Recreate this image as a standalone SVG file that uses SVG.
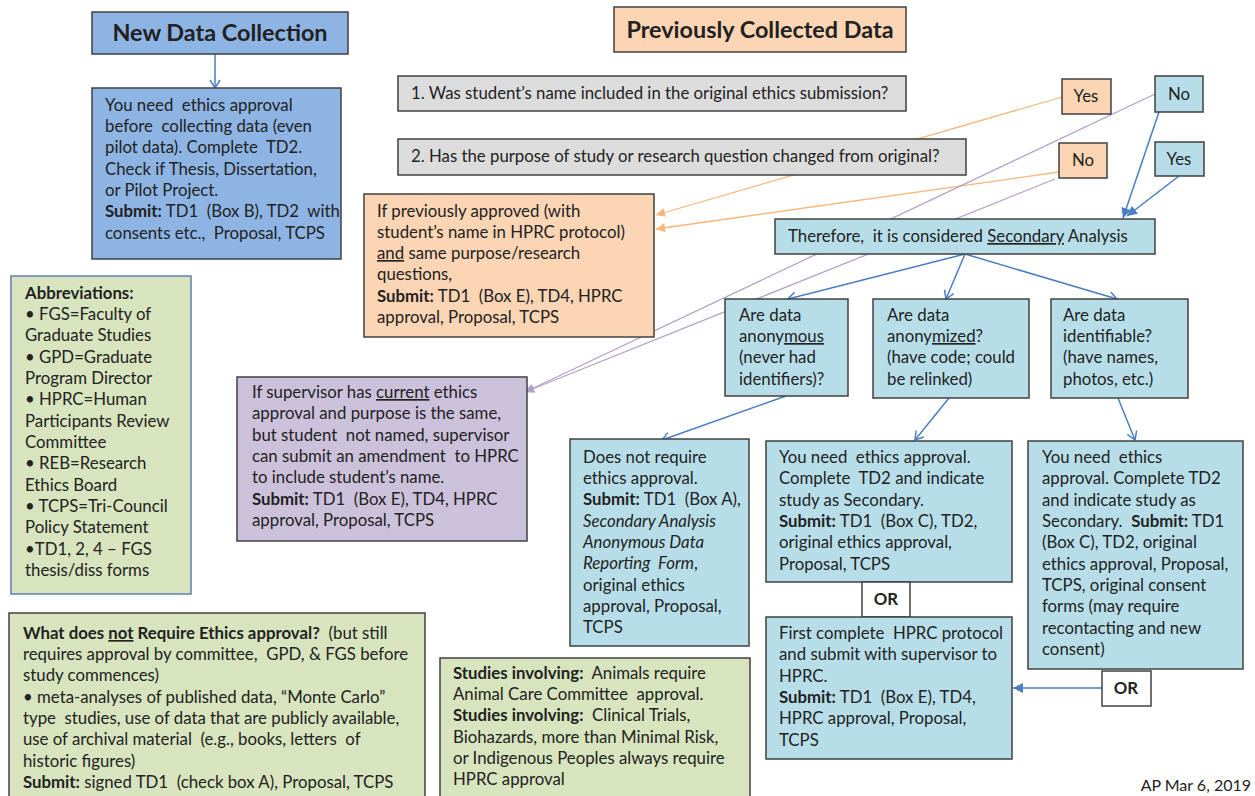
<svg xmlns="http://www.w3.org/2000/svg" width="1255" height="796" viewBox="0 0 1255 796">
<style>
.box{stroke:#404040;stroke-width:1.5}
.blue{fill:#8DB4E2}
.aqua{fill:#B7DEE8}
.peach{fill:#FCD5B4}
.grey{fill:#DCDCDC}
.lav{fill:#CCC1DA}
.green{fill:#D7E4BD}
.white{fill:#FFFFFF}
text{font-family:Lato,"Liberation Sans",sans-serif;font-size:16.8px;fill:#222;white-space:pre}
.title{font-size:23.4px;font-weight:bold}
.b{font-weight:bold}
.u{text-decoration:underline}
.i{font-style:italic}
.c{text-anchor:middle}
.cb{stroke:#4A7EC2;stroke-width:1.5;fill:none}
.co{stroke:#F9B67C;stroke-width:1.3;fill:none}
.cp{stroke:#B3A2C7;stroke-width:1.3;fill:none}
</style>
<defs>
<marker id="vb" viewBox="0 0 10 12" refX="9" refY="6" markerWidth="10" markerHeight="12" markerUnits="userSpaceOnUse" orient="auto"><path d="M1,1 L9,6 L1,11" fill="none" stroke="#4A7EC2" stroke-width="1.5"/></marker>
<marker id="fb" viewBox="0 0 10 10" refX="10" refY="5" markerWidth="11" markerHeight="10" markerUnits="userSpaceOnUse" orient="auto"><path d="M0,0 L10,5 L0,10 Z" fill="#4A7EC2"/></marker>
<marker id="fo" viewBox="0 0 10 10" refX="10" refY="5" markerWidth="10" markerHeight="9" markerUnits="userSpaceOnUse" orient="auto"><path d="M0,0 L10,5 L0,10 Z" fill="#F9B67C"/></marker>
<marker id="fp" viewBox="0 0 10 10" refX="10" refY="5" markerWidth="10" markerHeight="9" markerUnits="userSpaceOnUse" orient="auto"><path d="M0,0 L10,5 L0,10 Z" fill="#B3A2C7"/></marker>
</defs>
<rect width="1255" height="796" fill="#FFFFFF"/>

<g id="connectors">
<line class="cb" x1="215" y1="54" x2="215" y2="88" marker-end="url(#vb)"/>
<line class="cb" x1="1159" y1="112" x2="1123" y2="218" marker-end="url(#fb)"/>
<line class="cb" x1="1179" y1="176" x2="1127" y2="216" marker-end="url(#fb)"/>
<line class="cb" x1="965" y1="254" x2="788" y2="299" marker-end="url(#vb)"/>
<line class="cb" x1="965" y1="254" x2="946" y2="299" marker-end="url(#vb)"/>
<line class="cb" x1="965" y1="254" x2="1117" y2="299" marker-end="url(#vb)"/>
<line class="cb" x1="786" y1="396" x2="662" y2="440" marker-end="url(#vb)"/>
<line class="cb" x1="949" y1="398" x2="915" y2="440" marker-end="url(#vb)"/>
<line class="cb" x1="1118" y1="398" x2="1135" y2="440" marker-end="url(#vb)"/>
<line class="cb" x1="1102" y1="688" x2="1013" y2="688" marker-end="url(#fb)"/>
<line class="co" x1="1062" y1="97" x2="656" y2="215" marker-end="url(#fo)"/>
<line class="co" x1="1059" y1="172" x2="656" y2="229" marker-end="url(#fo)"/>
<line class="cp" x1="1155" y1="94" x2="525" y2="392" marker-end="url(#fp)"/>
<line class="cp" x1="1055" y1="179" x2="525" y2="392" marker-end="url(#fp)"/>
</g>

<g id="new-data-title">
<rect class="box blue" x="92" y="12" width="256" height="42"/>
<text class="title c" x="220" y="41">New Data Collection</text>
</g>

<g id="new-data-box">
<rect class="box blue" x="92" y="88" width="249" height="171"/>
<text x="105" y="111">You need  ethics approval</text>
<text x="105" y="132">before  collecting data (even</text>
<text x="105" y="153">pilot data). Complete  TD2.</text>
<text x="105" y="175">Check if Thesis, Dissertation,</text>
<text x="105" y="196">or Pilot Project.</text>
<text x="105" y="217"><tspan class="b">Submit:</tspan> TD1  (Box B), TD2  with</text>
<text x="105" y="239">consents etc.,  Proposal, TCPS</text>
</g>

<g id="prev-data-title">
<rect class="box peach" x="614" y="7" width="292" height="45"/>
<text class="title c" x="760" y="38">Previously Collected Data</text>
</g>

<g id="q1">
<rect class="box grey" x="398" y="76" width="508" height="35"/>
<text x="411" y="99">1. Was student’s name included in the original ethics submission?</text>
</g>

<g id="q2">
<rect class="box grey" x="398" y="139" width="568" height="36"/>
<text x="411" y="162">2. Has the purpose of study or research question changed from original?</text>
</g>

<g id="q1-yes">
<rect class="box peach" x="1062" y="79" width="49" height="35"/>
<text class="c" x="1086" y="102">Yes</text>
</g>
<g id="q1-no">
<rect class="box aqua" x="1155" y="76" width="48" height="36"/>
<text class="c" x="1179" y="100">No</text>
</g>
<g id="q2-no">
<rect class="box peach" x="1059" y="143" width="48" height="35"/>
<text class="c" x="1083" y="166">No</text>
</g>
<g id="q2-yes">
<rect class="box aqua" x="1155" y="142" width="49" height="34"/>
<text class="c" x="1179" y="165">Yes</text>
</g>

<g id="previously-approved">
<rect class="box peach" x="364" y="194" width="290" height="143"/>
<text x="377" y="217">If previously approved (with</text>
<text x="377" y="238">student’s name in HPRC protocol)</text>
<text x="377" y="259"><tspan class="u">and</tspan> same purpose/research</text>
<text x="377" y="280">questions,</text>
<text x="377" y="302"><tspan class="b">Submit:</tspan> TD1  (Box E), TD4, HPRC</text>
<text x="377" y="323">approval, Proposal, TCPS</text>
</g>

<g id="supervisor-amendment">
<rect class="box lav" x="237" y="377" width="290" height="164"/>
<text x="252" y="398">If supervisor has <tspan class="u">current</tspan> ethics</text>
<text x="252" y="419">approval and purpose is the same,</text>
<text x="252" y="441">but student  not named, supervisor</text>
<text x="252" y="462">can submit an amendment  to HPRC</text>
<text x="252" y="483">to include student’s name.</text>
<text x="252" y="505"><tspan class="b">Submit:</tspan> TD1  (Box E), TD4, HPRC</text>
<text x="252" y="526">approval, Proposal, TCPS</text>
</g>

<g id="secondary-analysis">
<rect class="box aqua" x="775" y="219" width="380" height="35"/>
<text x="788" y="242">Therefore,  it is considered <tspan class="u">Secondary</tspan> Analysis</text>
</g>

<g id="anonymous">
<rect class="box aqua" x="725" y="299" width="123" height="97"/>
<text x="739" y="321">Are data</text>
<text x="739" y="342">anony<tspan class="u">mous</tspan></text>
<text x="739" y="363">(never had</text>
<text x="739" y="385">identifiers)?</text>
</g>

<g id="anonymized">
<rect class="box aqua" x="873" y="299" width="156" height="99"/>
<text x="887" y="321">Are data</text>
<text x="887" y="342">anony<tspan class="u">mized</tspan>?</text>
<text x="887" y="363">(have code; could</text>
<text x="887" y="385">be relinked)</text>
</g>

<g id="identifiable">
<rect class="box aqua" x="1051" y="299" width="137" height="99"/>
<text x="1063" y="321">Are data</text>
<text x="1063" y="342">identifiable?</text>
<text x="1063" y="363">(have names,</text>
<text x="1063" y="385">photos, etc.)</text>
</g>

<g id="no-ethics-required">
<rect class="box aqua" x="570" y="439" width="179" height="207"/>
<text x="583" y="463">Does not require</text>
<text x="583" y="484">ethics approval.</text>
<text x="583" y="505"><tspan class="b">Submit:</tspan> TD1  (Box A),</text>
<text x="583" y="527" class="i">Secondary Analysis</text>
<text x="583" y="548" class="i">Anonymous Data</text>
<text x="583" y="569"><tspan class="i">Reporting  Form</tspan>,</text>
<text x="583" y="591">original ethics</text>
<text x="583" y="612">approval, Proposal,</text>
<text x="583" y="633">TCPS</text>
</g>

<g id="anonymized-result">
<rect class="box aqua" x="766" y="441" width="246" height="141"/>
<text x="779" y="463">You need  ethics approval.</text>
<text x="779" y="484">Complete  TD2 and indicate</text>
<text x="779" y="506">study as Secondary.</text>
<text x="779" y="527"><tspan class="b">Submit:</tspan> TD1  (Box C), TD2,</text>
<text x="779" y="548">original ethics approval,</text>
<text x="779" y="570">Proposal, TCPS</text>
</g>

<g id="or-1">
<rect class="box white" x="862" y="582" width="48" height="35"/>
<text class="c b" x="886" y="605">OR</text>
</g>

<g id="hprc-protocol">
<rect class="box aqua" x="766" y="617" width="246" height="142"/>
<text x="779" y="639">First complete  HPRC protocol</text>
<text x="779" y="660">and submit with supervisor to</text>
<text x="779" y="682">HPRC.</text>
<text x="779" y="703"><tspan class="b">Submit:</tspan> TD1  (Box E), TD4,</text>
<text x="779" y="724">HPRC approval, Proposal,</text>
<text x="779" y="746">TCPS</text>
</g>

<g id="identifiable-result">
<rect class="box aqua" x="1028" y="441" width="215" height="228"/>
<text x="1042" y="463">You need  ethics</text>
<text x="1042" y="484">approval. Complete TD2</text>
<text x="1042" y="506">and indicate study as</text>
<text x="1042" y="527">Secondary.  <tspan class="b">Submit:</tspan> TD1</text>
<text x="1042" y="548">(Box C), TD2, original</text>
<text x="1042" y="570">ethics approval, Proposal,</text>
<text x="1042" y="591">TCPS, original consent</text>
<text x="1042" y="612">forms (may require</text>
<text x="1042" y="634">recontacting and new</text>
<text x="1042" y="655">consent)</text>
</g>

<g id="or-2">
<rect class="box white" x="1102" y="671" width="49" height="35"/>
<text class="c b" x="1126" y="694">OR</text>
</g>

<g id="abbreviations">
<rect x="11" y="276" width="180" height="318" fill="#D7E4BD" stroke="#5F7FAF" stroke-width="1.5"/>
<text x="25" y="299" class="b">Abbreviations:</text>
<text x="25" y="320">• FGS=Faculty of</text>
<text x="25" y="341">Graduate Studies</text>
<text x="25" y="363">• GPD=Graduate</text>
<text x="25" y="384">Program Director</text>
<text x="25" y="405">• HPRC=Human</text>
<text x="25" y="427">Participants Review</text>
<text x="25" y="448">Committee</text>
<text x="25" y="469">• REB=Research</text>
<text x="25" y="491">Ethics Board</text>
<text x="25" y="512">• TCPS=Tri-Council</text>
<text x="25" y="533">Policy Statement</text>
<text x="25" y="555">•TD1, 2, 4 – FGS</text>
<text x="25" y="576">thesis/diss forms</text>
</g>

<g id="not-require-ethics">
<rect class="box green" x="9" y="613" width="416" height="190"/>
<text x="23" y="639"><tspan class="b">What does <tspan class="u">not</tspan> Require Ethics approval?</tspan>  (but still</text>
<text x="23" y="660">requires approval by committee,  GPD, &amp; FGS before</text>
<text x="23" y="681">study commences)</text>
<text x="23" y="703">• meta-analyses of published data, “Monte Carlo”</text>
<text x="23" y="724">type  studies, use of data that are publicly available,</text>
<text x="23" y="745">use of archival material  (e.g., books, letters  of</text>
<text x="23" y="767">historic figures)</text>
<text x="23" y="788"><tspan class="b">Submit:</tspan> signed TD1  (check box A), Proposal, TCPS</text>
</g>

<g id="studies-involving">
<rect class="box green" x="440" y="658" width="310" height="145"/>
<text x="453" y="679"><tspan class="b">Studies involving:</tspan>  Animals require</text>
<text x="453" y="700">Animal Care Committee  approval.</text>
<text x="453" y="721"><tspan class="b">Studies involving:</tspan>  Clinical Trials,</text>
<text x="453" y="743">Biohazards, more than Minimal Risk,</text>
<text x="453" y="764">or Indigenous Peoples always require</text>
<text x="453" y="785">HPRC approval</text>
</g>

<g id="footer">
<text x="1251" y="791" style="text-anchor:end;font-size:16px">AP Mar 6, 2019</text>
</g>
</svg>
